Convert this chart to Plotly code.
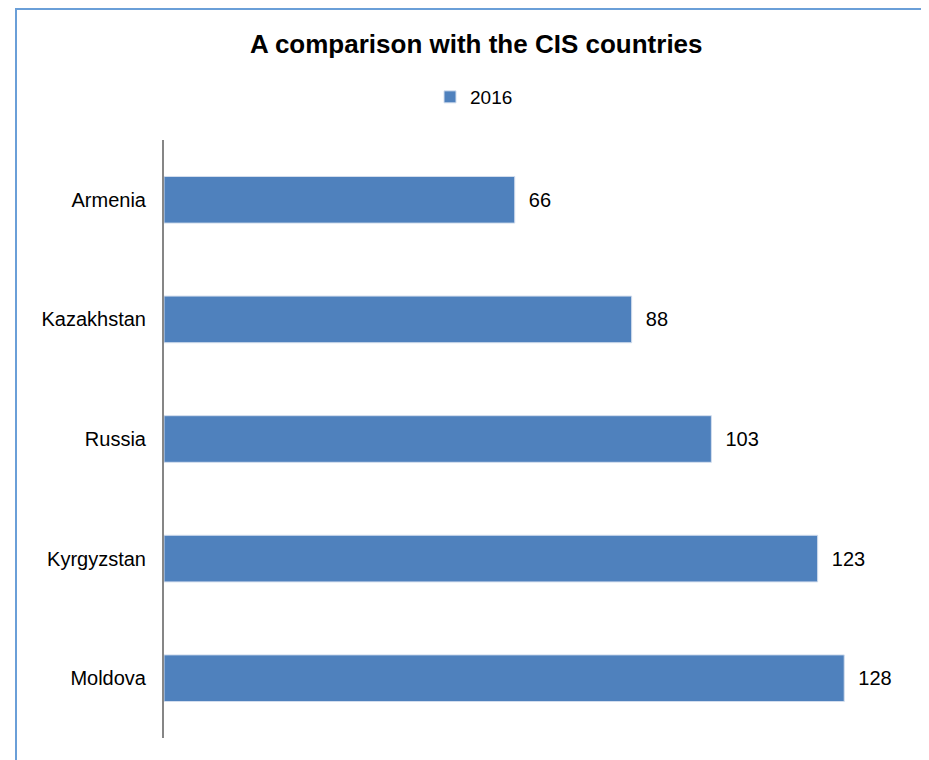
import plotly.graph_objects as go

countries = ["Armenia", "Kazakhstan", "Russia", "Kyrgyzstan", "Moldova"]
values_2016 = [66, 88, 103, 123, 128]
series_name = "2016"
title_text = "A comparison with the CIS countries"

FONT = "Liberation Sans, Arial, sans-serif"

L, R, T, B = 156, 29, 132, 30
W, H = 929, 760
PW = W - L - R
PH = H - T - B

fig = go.Figure()
fig.add_trace(go.Bar(
    y=countries, x=values_2016, orientation="h", name=series_name,
    marker=dict(color="#4f81bd", line=dict(color="#d3deee", width=1)),
    text=values_2016, texttemplate="\u00a0\u00a0%{x}", textposition="outside",
    textfont=dict(family=FONT, size=20, color="#000000"), cliponaxis=False,
))

fig.update_layout(
    width=W, height=H,
    margin=dict(l=L, r=R, t=T, b=B),
    paper_bgcolor="white", plot_bgcolor="white",
    title=dict(text="<b>" + title_text + "</b>", x=0.504, xanchor="center",
               y=1 - 36 / H, yanchor="middle",
               font=dict(family=FONT, size=26, color="#000000")),
    showlegend=True,
    legend=dict(orientation="h", x=(466 - L) / PW, xanchor="center",
                y=(H - B - 89) / PH, yanchor="middle",
                font=dict(family=FONT, size=19, color="#000000"), itemwidth=30),
    bargap=0.61,
    xaxis=dict(range=[0, 140], showgrid=False, zeroline=False, showticklabels=False,
               showline=False, ticks=""),
    yaxis=dict(categoryorder="array", categoryarray=countries, autorange="reversed",
               showgrid=False, zeroline=False, showline=True, linecolor="#868686",
               linewidth=2, ticks="", ticklabelstandoff=12,
               tickfont=dict(family=FONT, size=20, color="#000000")),
    shapes=[dict(type="rect", xref="paper", yref="paper",
                 x0=(8 - L) / PW, x1=1.5, y0=-0.5, y1=(H - B - 1) / PH,
                 line=dict(color="#6a9fd8", width=2), fillcolor="rgba(0,0,0,0)",
                 layer="below")],
)

fig.write_html("out.html")
